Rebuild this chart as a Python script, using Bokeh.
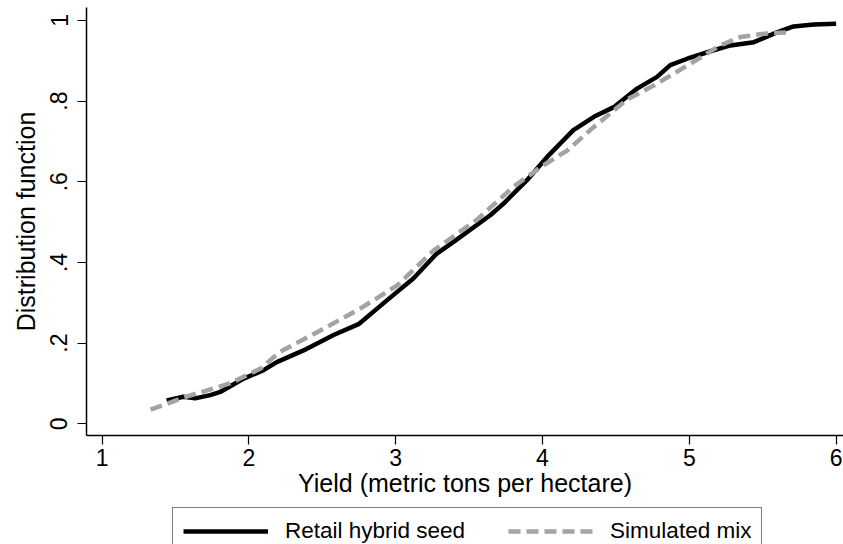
from bokeh.plotting import figure
from bokeh.models import FixedTicker, Range1d, Legend, LegendItem
from bokeh.layouts import column
from bokeh.embed import file_html
from bokeh.resources import INLINE

# Data
retail_x = [1.44, 1.555, 1.634, 1.737, 1.805, 1.953, 2.10, 2.19, 2.372, 2.577, 2.747, 2.94, 3.12,
            3.28, 3.394, 3.644, 3.735, 3.894, 4.03, 4.21, 4.35, 4.485, 4.644, 4.78, 4.87, 4.985,
            5.166, 5.28, 5.44, 5.60, 5.71, 5.847, 6.0]
retail_y = [0.058, 0.067, 0.063, 0.071, 0.079, 0.110, 0.133, 0.153, 0.182, 0.220, 0.247, 0.306, 0.360,
            0.422, 0.451, 0.517, 0.546, 0.604, 0.661, 0.728, 0.761, 0.785, 0.831, 0.860, 0.889, 0.905,
            0.926, 0.938, 0.946, 0.971, 0.985, 0.990, 0.992]

mix_x = [1.33, 1.58, 1.87, 2.08, 2.21, 2.49, 2.76, 3.01, 3.26, 3.55, 3.80, 3.99, 4.17, 4.35,
         4.58, 4.76, 4.99, 5.21, 5.35, 5.51, 5.69]
mix_y = [0.035, 0.068, 0.100, 0.137, 0.178, 0.232, 0.286, 0.343, 0.430, 0.505, 0.587, 0.637, 0.678, 0.736,
         0.805, 0.839, 0.889, 0.938, 0.959, 0.967, 0.971]

x_ticks = [1, 2, 3, 4, 5, 6]
y_ticks = [0, 0.2, 0.4, 0.6, 0.8, 1.0]
y_tick_labels = ["0", ".2", ".4", ".6", ".8", "1"]
series_names = ["Retail hybrid seed", "Simulated mix"]

FONT = "Liberation Sans"
BLACK_STYLE = dict(line_color="black", line_width=4.5)
GRAY_STYLE = dict(line_color="#a3a3a3", line_width=4.5, line_dash="12 6")

p = figure(width=843, height=503, output_backend="svg", toolbar_location=None,
           x_range=Range1d(0.894, 6.05), y_range=Range1d(-0.029, 1.032),
           min_border_left=86, min_border_right=0, min_border_top=7, min_border_bottom=68)

p.background_fill_color = "white"
p.border_fill_color = "white"
p.outline_line_color = None
p.xgrid.grid_line_color = None
p.ygrid.grid_line_color = None

p.line(retail_x, retail_y, **BLACK_STYLE)
p.line(mix_x, mix_y, **GRAY_STYLE)

for ax in (p.xaxis[0], p.yaxis[0]):
    ax.axis_line_color = "black"
    ax.axis_line_width = 1.5
    ax.major_tick_line_color = "black"
    ax.major_tick_line_width = 1.2
    ax.major_tick_out = 9
    ax.major_tick_in = 0
    ax.minor_tick_line_color = None
    ax.major_label_text_font = FONT
    ax.major_label_text_font_size = "23px"
    ax.major_label_text_color = "black"
    ax.axis_label_text_font = FONT
    ax.axis_label_text_font_size = "25px"
    ax.axis_label_text_font_style = "normal"
    ax.axis_label_text_color = "black"

p.xaxis.ticker = FixedTicker(ticks=x_ticks)
p.yaxis.ticker = FixedTicker(ticks=y_ticks)
p.yaxis.major_label_overrides = {t: l for t, l in zip(y_ticks, y_tick_labels)}
p.yaxis.major_label_orientation = "parallel"
p.xaxis.axis_label = "Yield (metric tons per hectare)"
p.yaxis.axis_label = "Distribution function"
p.xaxis.major_label_standoff = 4
p.yaxis.major_label_standoff = 10
p.xaxis.axis_label_standoff = 0
p.yaxis.axis_label_standoff = 8

# Legend strip below the chart (its frame is aligned with the chart frame)
leg = figure(width=843, height=41, output_backend="svg", toolbar_location=None,
             x_range=Range1d(0, 1), y_range=Range1d(0, 1),
             min_border_left=0, min_border_right=0, min_border_top=0, min_border_bottom=0)
leg.axis.visible = False
leg.grid.visible = False
leg.outline_line_color = None
leg.background_fill_color = "white"
leg.border_fill_color = "white"
nan = float("nan")
lr1 = leg.line([nan, nan], [nan, nan], **BLACK_STYLE)
lr2 = leg.line([nan, nan], [nan, nan], **GRAY_STYLE)

legend = Legend(items=[LegendItem(label=series_names[0], renderers=[lr1]),
                       LegendItem(label=series_names[1], renderers=[lr2])],
                orientation="horizontal", location=(86, -11),
                border_line_color="black", border_line_width=1.3,
                label_text_font=FONT, label_text_font_size="22.5px", label_text_color="black",
                glyph_width=85, glyph_height=22, label_height=22, label_standoff=17, spacing=43,
                padding=10, margin=0, background_fill_alpha=1)
leg.add_layout(legend, "center")

layout = column(p, leg, spacing=0)
open("out.html", "w").write(file_html(layout, INLINE))
